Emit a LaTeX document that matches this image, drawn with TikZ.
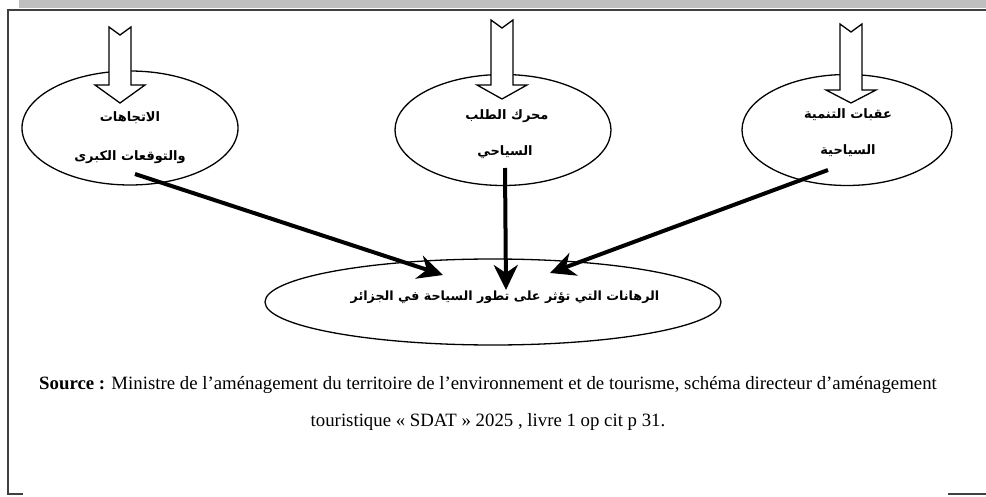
\documentclass[tikz,border=0pt]{standalone}
\usepackage{fontspec}
\setmainfont{Liberation Serif}
\newfontfamily\arabicfont[Script=Arabic]{DejaVu Sans}
\TeXXeTstate=1
\usetikzlibrary{arrows.meta,shapes.geometric}
\newcommand\blockdown[5]{%
  \draw[blk] (#1-11,#2) -- (#1,#2+8) -- (#1+11,#2) -- (#1+11,#3) -- (#1+25,#3)
    -- (#1,#4) -- (#1-25,#3) -- (#1-11,#3) -- cycle;}
\begin{document}
\begin{tikzpicture}[x=1pt,y=-1pt,
  oval/.style={ellipse,draw,line width=1.3pt,inner sep=0pt},
  blk/.style={draw,fill=white,line width=1.3pt,line join=miter},
  ar/.style={font=\arabicfont\bfseries\fontsize{13}{15}\selectfont,inner sep=0pt},
  thick arrow/.style={line width=4pt,-{Stealth[length=25pt,width=24pt,inset=8pt]}},
  frame/.style={line width=1.6pt,black!75}]
\useasboundingbox (0,0) rectangle (986,497);
\fill[black!25] (19,0) rectangle (986,8);
\draw[frame] (986,10) -- (8,10) -- (8,494) -- (23,494);
\draw[frame] (948,494) -- (986,494);
% ellipses
\node[oval,minimum width=216pt,minimum height=114pt] (e1) at (130,128) {};
\node[oval,minimum width=216pt,minimum height=111pt] (e2) at (503,130) {};
\node[oval,minimum width=210pt,minimum height=111pt] (e3) at (847,130) {};
\node[oval,minimum width=456pt,minimum height=86pt] (e4) at (493,302) {};
% block arrows
\blockdown{120}{27}{85}{103}{}
\blockdown{502}{20}{85}{99}{}
\blockdown{851}{24}{90}{103}{}
% texts
\node[ar] (t1a) at (130,118) {\beginR الاتجاهات\endR};
\node[ar] (t1b) at (130,157) {\beginR والتوقعات الكبرى\endR};
\node[ar] (t2a) at (507,116) {\beginR محرك الطلب\endR};
\node[ar] (t2b) at (505,152) {\beginR السياحي\endR};
\node[ar] (t3a) at (848,115) {\beginR عقبات التنمية\endR};
\node[ar] (t3b) at (848,151) {\beginR السياحية\endR};
\node[ar,font=\arabicfont\bfseries\fontsize{12.7}{15}\selectfont] (t4) at (505,297) {\beginR الرهانات التي تؤثر على تطور السياحة في الجزائر\endR};
% connectors
\coordinate (s1) at (135,174);
\coordinate (s2) at (505,168);
\coordinate (s3) at (828,170);
\coordinate (d1) at (443,275);
\coordinate (d2) at (506,290);
\coordinate (d3) at (550,273);
\draw[thick arrow] (s1) -- (d1);
\draw[thick arrow] (s2) -- (d2);
\draw[thick arrow] (s3) -- (d3);
% source
\node[font=\fontsize{18.8}{22}\selectfont,inner sep=0pt] (src1) at (488,385)
  {\textbf{Source :} Ministre de l’aménagement du territoire de l’environnement et de tourisme, schéma directeur d’aménagement};
\node[font=\fontsize{18.8}{22}\selectfont,inner sep=0pt] (src2) at (488,422)
  {touristique « SDAT » 2025 , livre 1 op cit p 31.};
\end{tikzpicture}
\end{document}
